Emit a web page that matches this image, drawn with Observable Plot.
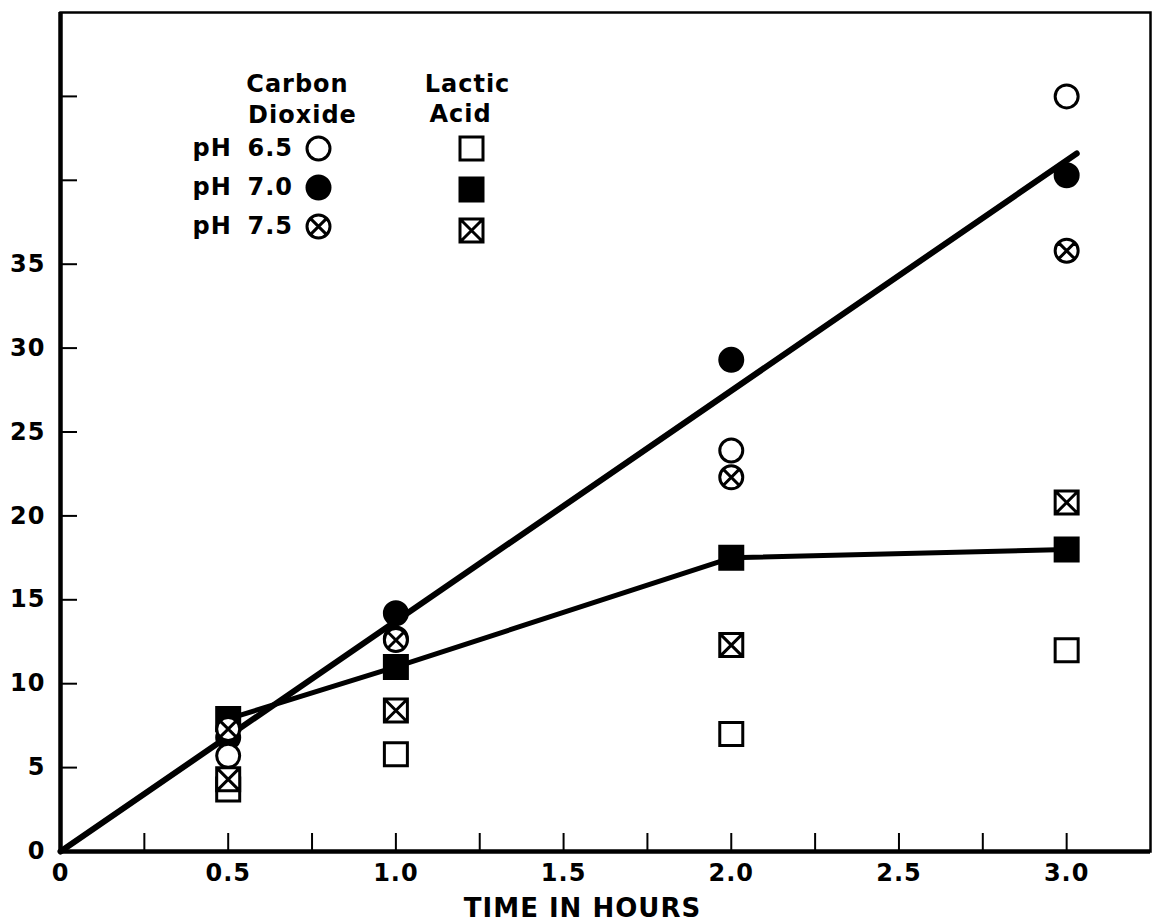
<!DOCTYPE html>
<html>
<head>
<meta charset="utf-8">
<script src="https://cdn.jsdelivr.net/npm/d3@7"></script>
<script src="https://cdn.jsdelivr.net/npm/@observablehq/plot@0.6"></script>
<style>
  html, body { margin: 0; padding: 0; background: #fff; }
  #chart svg { display: block; }
</style>
</head>
<body>
<div id="chart"></div>
<script>
// Sampling times (hours)
const hours = [0.5, 1.0, 2.0, 3.0];

// Carbon dioxide produced
const co2_pH65 = [5.7, 12.7, 23.9, 45.0];
const co2_pH70 = [6.8, 14.2, 29.3, 40.3];
const co2_pH75 = [7.3, 12.6, 22.3, 35.8];

// Lactic acid produced
const lactic_pH65 = [3.7, 5.8, 7.0, 12.0];
const lactic_pH70 = [7.9, 11.0, 17.5, 18.0];
const lactic_pH75 = [4.3, 8.4, 12.3, 20.8];

// Straight line drawn through the carbon dioxide values
const co2FitHours = [0, 3.03];
const co2FitValues = [0, 41.6];

// Axis ticks and labels
const xTickValues = [0.25, 0.5, 0.75, 1.0, 1.25, 1.5, 1.75, 2.0, 2.25, 2.5, 2.75, 3.0];
const xLabelValues = [0, 0.5, 1.0, 1.5, 2.0, 2.5, 3.0];
const xTickLabels = ["0", "0.5", "1.0", "1.5", "2.0", "2.5", "3.0"];
const yTickValues = [5, 10, 15, 20, 25, 30, 35, 40, 45];
const yLabelValues = [0, 5, 10, 15, 20, 25, 30, 35];
const yTickLabels = ["0", "5", "10", "15", "20", "25", "30", "35"];

// Legend entries
const legendPH = ["6.5", "7.0", "7.5"];

const W = 1153, H = 923;
const margin = {top: 12, right: 3, bottom: 72, left: 60};
const plotW = W - margin.left - margin.right;
const plotH = H - margin.top - margin.bottom;

// Marker shapes: r = sqrt(size / PI)
const rad = size => Math.sqrt(size / Math.PI);
const ring = {draw(ctx, size) { const r = rad(size); ctx.moveTo(r, 0); ctx.arc(0, 0, r, 0, 2 * Math.PI); ctx.closePath(); }};
const ringCross = {draw(ctx, size) {
  const r = rad(size), k = r * Math.SQRT1_2;
  ctx.moveTo(r, 0); ctx.arc(0, 0, r, 0, 2 * Math.PI); ctx.closePath();
  ctx.moveTo(-k, -k); ctx.lineTo(k, k);
  ctx.moveTo(-k, k); ctx.lineTo(k, -k);
}};
const box = {draw(ctx, size) { const r = rad(size); ctx.rect(-r, -r, 2 * r, 2 * r); }};
const boxCross = {draw(ctx, size) {
  const r = rad(size);
  ctx.rect(-r, -r, 2 * r, 2 * r);
  ctx.moveTo(-r, -r); ctx.lineTo(r, r);
  ctx.moveTo(-r, r); ctx.lineTo(r, -r);
}};

const R = 11.5, SW = 3;
const styles = {
  co2_pH65: {symbol: ring, fill: "white"},
  co2_pH70: {symbol: ring, fill: "black"},
  co2_pH75: {symbol: ringCross, fill: "white"},
  lactic_pH65: {symbol: box, fill: "white"},
  lactic_pH70: {symbol: box, fill: "black"},
  lactic_pH75: {symbol: boxCross, fill: "white"}
};
const seriesValues = {co2_pH65, co2_pH70, co2_pH75, lactic_pH65, lactic_pH70, lactic_pH75};
// draw order (later ones sit on top)
const drawOrder = ["lactic_pH65", "lactic_pH70", "co2_pH70", "co2_pH65", "co2_pH75", "lactic_pH75"];

const pointMark = key => Plot.dot(hours.map((h, i) => ({h, v: seriesValues[key][i]})), {
  x: "h", y: "v", r: R, symbol: styles[key].symbol, fill: styles[key].fill,
  stroke: "black", strokeWidth: SW
});

const FS = 24;
const font = {fontFamily: "DejaVu Sans", fontWeight: "bold", fontSize: FS};
const at = (dx, dy, extra = {}) => ({...font, frameAnchor: "top-left", dx, dy, lineAnchor: "middle", ...extra});

// Legend marks anchored to the top-left of the frame
const legendMarks = [
  Plot.text(["Carbon"], at(237, 72, {textAnchor: "middle"})),
  Plot.text(["Dioxide"], at(242, 103, {textAnchor: "middle"})),
  Plot.text(["Lactic"], at(407, 72, {textAnchor: "middle"})),
  Plot.text(["Acid"], at(400, 102, {textAnchor: "middle"})),
  ...legendPH.flatMap((ph, i) => {
    const dy = 136 + i * 39;
    const co2Key = ["co2_pH65", "co2_pH70", "co2_pH75"][i];
    const lacKey = ["lactic_pH65", "lactic_pH70", "lactic_pH75"][i];
    return [
      Plot.text(["pH"], at(132, dy, {textAnchor: "start"})),
      Plot.text([ph], at(187, dy, {textAnchor: "start"})),
      Plot.dot([ph], {frameAnchor: "top-left", dx: 258, dy, r: R, symbol: styles[co2Key].symbol, fill: styles[co2Key].fill, stroke: "black", strokeWidth: SW}),
      Plot.dot([ph], {frameAnchor: "top-left", dx: 411, dy: dy + i * 2, r: R, symbol: styles[lacKey].symbol, fill: styles[lacKey].fill, stroke: "black", strokeWidth: SW})
    ];
  })
];

const chart = Plot.plot({
  width: W,
  height: H,
  marginTop: margin.top,
  marginRight: margin.right,
  marginBottom: margin.bottom,
  marginLeft: margin.left,
  style: {background: "white", color: "black", fontFamily: "DejaVu Sans", fontSize: FS + "px"},
  x: {domain: [0, 3.25]},
  y: {domain: [0, 50]},
  marks: [
    Plot.frame({stroke: "black", strokeWidth: 2.5}),
    Plot.ruleX([0], {stroke: "black", strokeWidth: 4.5}),
    Plot.ruleY([0], {stroke: "black", strokeWidth: 4.5}),
    Plot.tickY(yTickValues, {y: d => d, insetRight: plotW - 17, stroke: "black", strokeWidth: 2}),
    Plot.tickX(xTickValues, {x: d => d, insetTop: plotH - 18, stroke: "black", strokeWidth: 2}),
    Plot.axisY({ticks: yLabelValues, tickFormat: d => yTickLabels[yLabelValues.indexOf(d)], tickSize: 0, tickPadding: 15, label: null, ...font}),
    Plot.axisX({ticks: xLabelValues, tickFormat: d => xTickLabels[xLabelValues.indexOf(d)], tickSize: 0, tickPadding: 12, label: null, ...font}),
    Plot.text(["TIME IN HOURS"], {...font, fontSize: 26, frameAnchor: "bottom", dx: -23, dy: 57, lineAnchor: "middle", textAnchor: "middle"}),
    Plot.line(co2FitHours.map((h, i) => ({h, v: co2FitValues[i]})), {x: "h", y: "v", stroke: "black", strokeWidth: 6, strokeLinecap: "round"}),
    Plot.line(hours.map((h, i) => ({h, v: lactic_pH70[i]})), {x: "h", y: "v", stroke: "black", strokeWidth: 5, strokeLinecap: "round"}),
    ...drawOrder.map(pointMark),
    ...legendMarks
  ]
});

// open lettering style
d3.select(chart).selectAll("text").style("letter-spacing", "1px");
document.getElementById("chart").appendChild(chart);
</script>
</body>
</html>
